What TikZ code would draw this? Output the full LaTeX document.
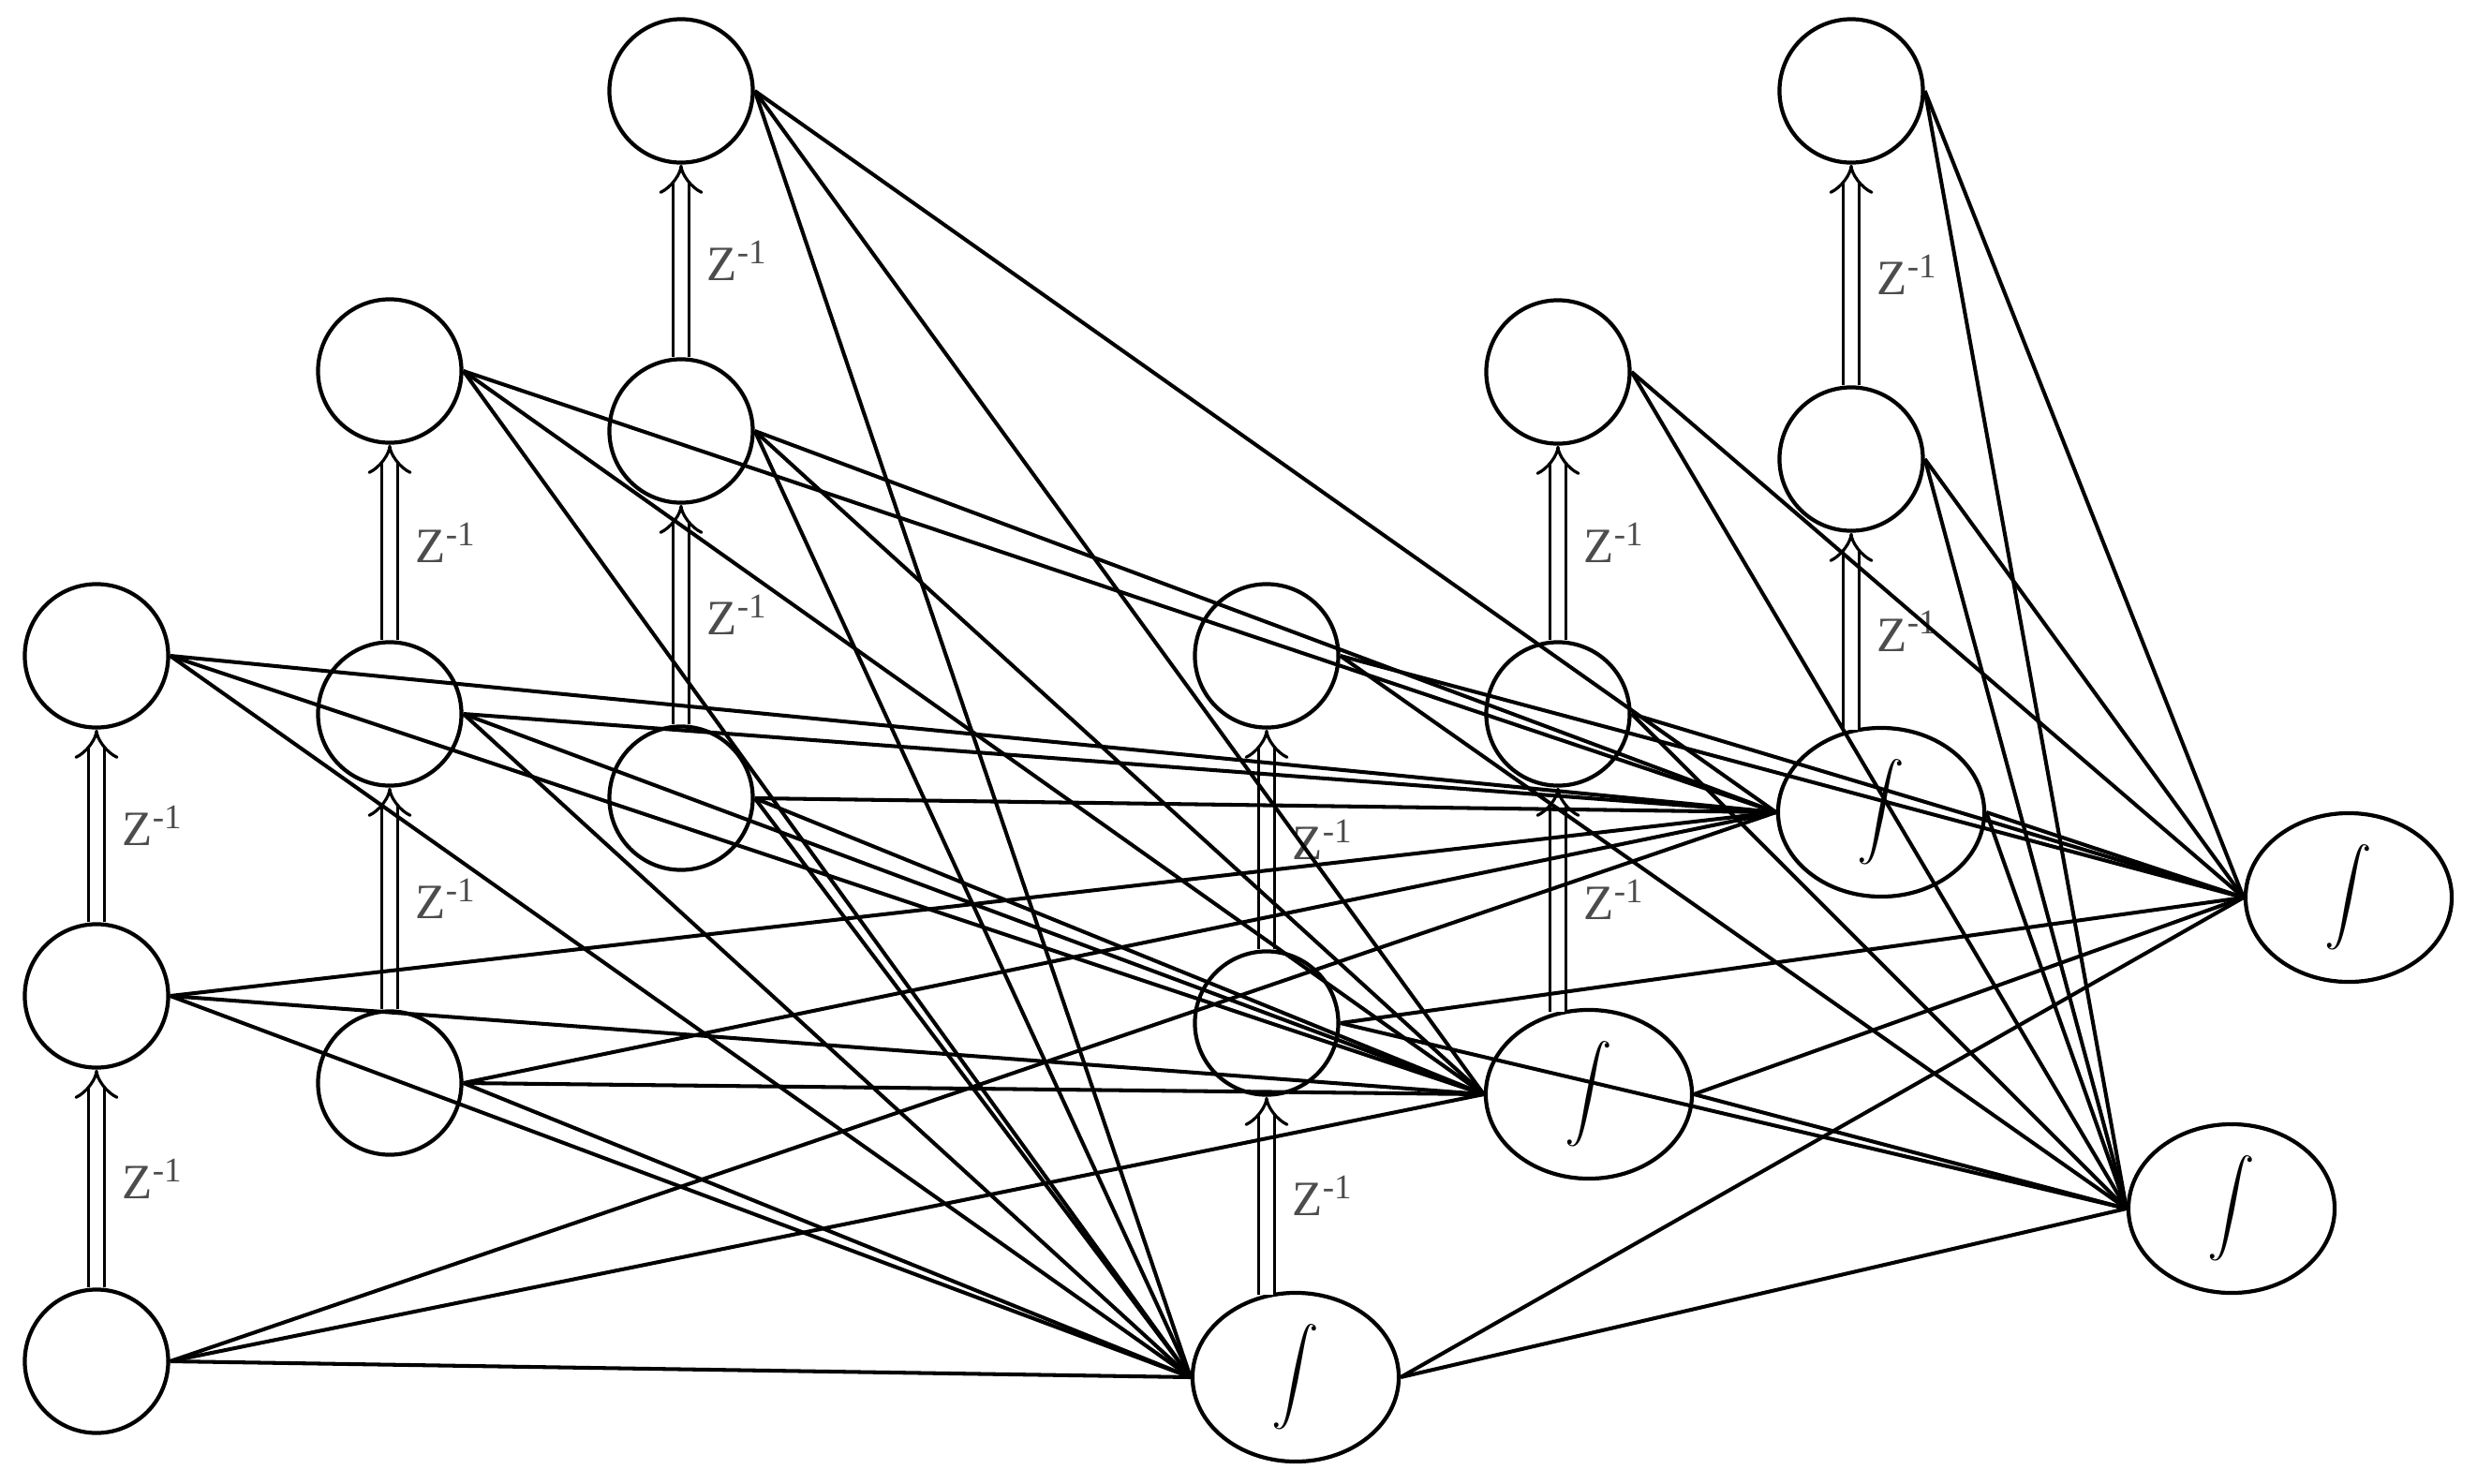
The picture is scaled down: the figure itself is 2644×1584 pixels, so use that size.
\documentclass[tikz,border=0pt]{standalone}
\usepackage{fontspec}
\usepackage{exscale}
\setmainfont{Liberation Serif}
\usetikzlibrary{shapes.geometric,arrows.meta}
\begin{document}
\begin{tikzpicture}[x=0.01cm, y=-0.01cm,
  nd/.style={circle, draw, line width=1.2pt, minimum size=1.53cm, inner sep=0pt},
  intg/.style={ellipse, draw, line width=1.2pt, minimum width=2.2cm, minimum height=1.8cm, inner sep=0pt, font=\fontsize{13.5}{15}\selectfont},
  conn/.style={line width=1.15pt},
  delay/.style={double, double distance=3.8pt, line width=0.9pt, -{Implies}},
  zlab/.style={anchor=west, xshift=0.18cm, text=black!70, font=\fontsize{15}{17}\selectfont, inner sep=0.08cm}]
\useasboundingbox (0,0) rectangle (2644,1584);

% input taps
\node[nd] (A1) at (103,700) {};
\node[nd] (A2) at (103,1063) {};
\node[nd] (A3) at (103,1453) {};
\node[nd] (B1) at (416,396) {};
\node[nd] (B2) at (416,762) {};
\node[nd] (B3) at (416,1156) {};
\node[nd] (C1) at (727,97) {};
\node[nd] (C2) at (727,460) {};
\node[nd] (C3) at (727,852) {};
% hidden units and their delayed copies
\node[nd] (D1) at (1352,700) {};
\node[nd] (D2) at (1352,1092) {};
\node[intg] (Dh) at (1383,1470) {$\displaystyle\int$};
\node[nd] (E1) at (1663,397) {};
\node[nd] (E2) at (1663,762) {};
\node[intg] (Eh) at (1696,1168) {$\displaystyle\int$};
\node[nd] (F1) at (1976,97) {};
\node[nd] (F2) at (1976,490) {};
\node[intg] (Fh) at (2008,867) {$\displaystyle\int$};
% outputs
\node[intg] (R1) at (2507,958) {$\displaystyle\int$};
\node[intg] (R2) at (2382,1290) {$\displaystyle\int$};

% delay arrows
\draw[delay] (A3.north) -- node[zlab]{Z\textsuperscript{-1}} (A2.south);
\draw[delay] (A2.north) -- node[zlab]{Z\textsuperscript{-1}} (A1.south);
\draw[delay] (B3.north) -- node[zlab]{Z\textsuperscript{-1}} (B2.south);
\draw[delay] (B2.north) -- node[zlab]{Z\textsuperscript{-1}} (B1.south);
\draw[delay] (C3.north) -- node[zlab]{Z\textsuperscript{-1}} (C2.south);
\draw[delay] (C2.north) -- node[zlab]{Z\textsuperscript{-1}} (C1.south);
\path (D2.south |- Dh.north) ++(0,4) coordinate (Db);
\path (E2.south |- Eh.north) ++(0,4) coordinate (Eb);
\path (F2.south |- Fh.north) ++(0,4) coordinate (Fb);
\draw[delay] (Db) -- node[zlab]{Z\textsuperscript{-1}} (D2.south);
\draw[delay] (D2.north) -- node[zlab]{Z\textsuperscript{-1}} (D1.south);
\draw[delay] (Eb) -- node[zlab]{Z\textsuperscript{-1}} (E2.south);
\draw[delay] (E2.north) -- node[zlab]{Z\textsuperscript{-1}} (E1.south);
\draw[delay] (Fb) -- node[zlab]{Z\textsuperscript{-1}} (F2.south);
\draw[delay] (F2.north) -- node[zlab]{Z\textsuperscript{-1}} (F1.south);

% inputs to hidden units
\foreach \s in {A1,A2,A3,B1,B2,B3,C1,C2,C3}
  \foreach \t in {Dh,Eh,Fh}
    \draw[conn] (\s.east) -- (\t.west);
% hidden units and delayed copies to outputs
\foreach \s in {D1,D2,Dh,E1,E2,Eh,F1,F2,Fh}
  \foreach \t in {R1,R2}
    \draw[conn] (\s.east) -- (\t.west);
\end{tikzpicture}
\end{document}
